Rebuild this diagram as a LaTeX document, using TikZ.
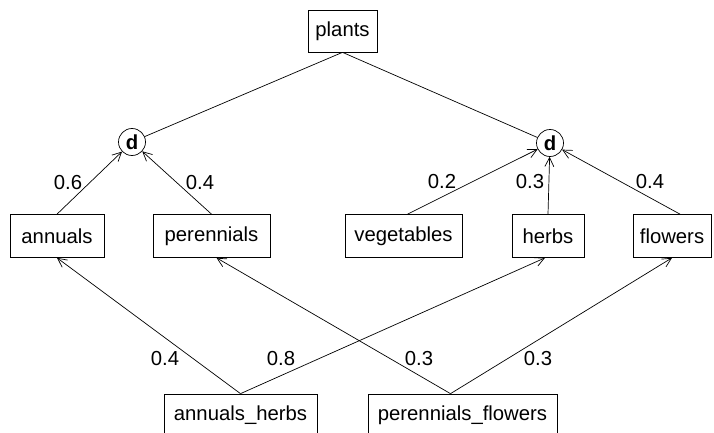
\documentclass[tikz,border=0pt]{standalone}
\usepackage{fontspec}
\setmainfont{Liberation Sans}
\usetikzlibrary{shapes, positioning, arrows.meta, calc}

\begin{document}
\begin{tikzpicture}[
    x=1pt, y=-1pt, line width=0.7pt,
    >={Straight Barb[length=9pt, width=9pt]},
    every node/.style={font=\fontsize{20.3}{24}\selectfont},
    item/.style={draw, rectangle, minimum height=43pt, inner sep=0pt},
    decision/.style={draw, circle, minimum size=27pt, inner sep=0pt, font=\fontsize{20.3}{24}\selectfont\bfseries},
    weight/.style={inner sep=0pt}
]
\useasboundingbox (0,0) rectangle (714,433);
\node[item, minimum width=69pt, minimum height=42pt] (Plants) at (342.5, 31) {plants};
\node[decision] (DLeft)  at (132, 142) {d};
\node[decision] (DRight) at (550, 143) {d};
\node[item, minimum width=94pt]  (Annuals)    at (57, 236)    {annuals};
\node[item, minimum width=117pt] (Perennials) at (211.5, 236) {perennials};
\node[item, minimum width=117pt] (Vegetables) at (403.5, 236) {vegetables};
\node[item, minimum width=72pt]  (Herbs)      at (548, 236)   {herbs};
\node[item, minimum width=78pt]  (Flowers)    at (672, 236)   {flowers};
\node[item, minimum width=153pt] (AnnHerbs)   at (240.5, 415.5) {annuals\_herbs};
\node[item, minimum width=189pt] (PerFlowers) at (462.5, 415.5) {perennials\_flowers};
\draw (Plants.south) -- (DLeft);
\draw (Plants.south) -- (DRight);
\draw[->] (Annuals.north) -- (DLeft);
\draw[->] (Perennials.north) -- (DLeft);
\draw[->] ([xshift=4pt]Vegetables.north) -- (DRight);
\draw[->] (Herbs.north) -- (DRight);
\draw[->] ([xshift=8pt]Flowers.north) -- (DRight);
\draw[->] (AnnHerbs.north) -- (Annuals.south);
\draw[->] (AnnHerbs.north) -- ([xshift=-3pt]Herbs.south);
\draw[->] ([xshift=-12pt]PerFlowers.north) -- ([xshift=5pt]Perennials.south);
\draw[->] ([xshift=-12pt]PerFlowers.north) -- (Flowers.south);
\node[weight] (W1) at (68, 183)  {0.6};
\node[weight] (W2) at (200, 183) {0.4};
\node[weight] (W3) at (442, 182) {0.2};
\node[weight] (W4) at (530, 182) {0.3};
\node[weight] (W5) at (650, 182) {0.4};
\node[weight] (W6) at (165, 359) {0.4};
\node[weight] (W7) at (281, 359) {0.8};
\node[weight] (W8) at (419, 359) {0.3};
\node[weight] (W9) at (538, 359) {0.3};
\end{tikzpicture}
\end{document}
